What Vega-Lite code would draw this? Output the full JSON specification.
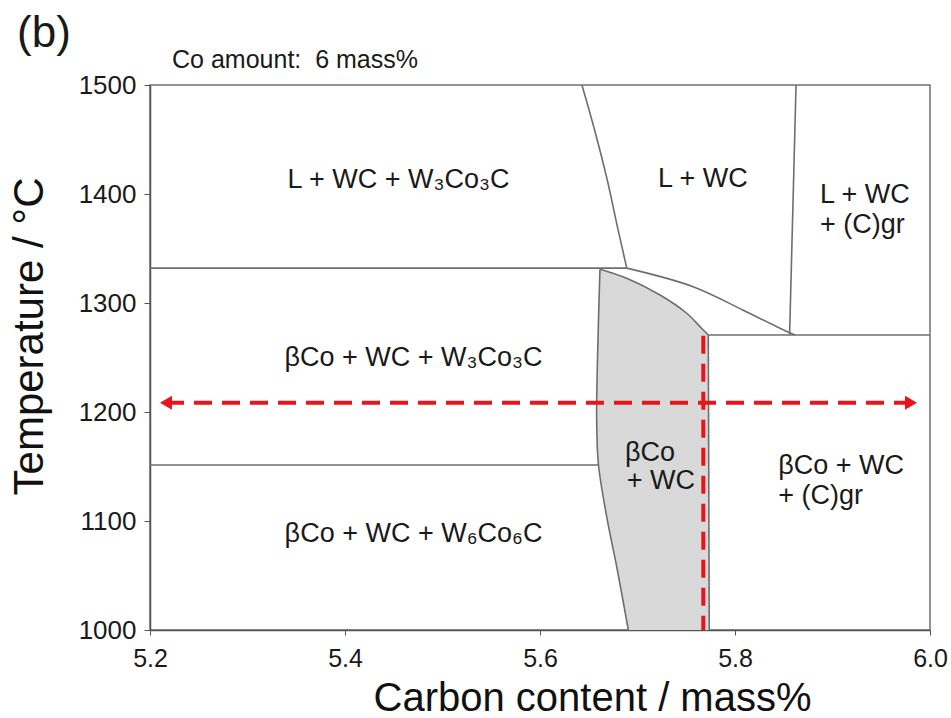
{
  "$schema": "https://vega.github.io/schema/vega-lite/v6.json",
  "width": 780,
  "height": 545,
  "autosize": {"type": "none"},
  "padding": {"left": 150, "top": 85, "right": 21, "bottom": 88},
  "background": "white",
  "config": {
    "font": "Liberation Sans",
    "view": {"stroke": "#707070", "strokeWidth": 1.5}
  },
  "datasets": {
    "region": [
      {"t": 1000, "c": 5.6906, "c2": 5.7736},
      {"t": 1058, "c": 5.6787, "c2": 5.7733},
      {"t": 1104, "c": 5.6684, "c2": 5.7730},
      {"t": 1153, "c": 5.6598, "c2": 5.7730},
      {"t": 1196, "c": 5.6581, "c2": 5.7728},
      {"t": 1257, "c": 5.6592, "c2": 5.7727},
      {"t": 1270.6, "c": 5.6598, "c2": 5.7726},
      {"t": 1278.3, "c": 5.6600, "c2": 5.7641},
      {"t": 1290.6, "c": 5.6603, "c2": 5.7505},
      {"t": 1307.3, "c": 5.6607, "c2": 5.7231},
      {"t": 1322.7, "c": 5.6612, "c2": 5.6889},
      {"t": 1331, "c": 5.6615, "c2": 5.6615}
    ],
    "bounds": [
      {"seg": "A", "k": 0, "c": 5.2, "t": 1332},
      {"seg": "A", "k": 1, "c": 5.689, "t": 1332},
      {"seg": "B", "k": 0, "c": 5.643, "t": 1500},
      {"seg": "B", "k": 1, "c": 5.656, "t": 1458.7},
      {"seg": "B", "k": 2, "c": 5.669, "t": 1412.8},
      {"seg": "B", "k": 3, "c": 5.679, "t": 1371.6},
      {"seg": "B", "k": 4, "c": 5.689, "t": 1332},
      {"seg": "C", "k": 0, "c": 5.689, "t": 1332},
      {"seg": "C", "k": 1, "c": 5.757, "t": 1315},
      {"seg": "C", "k": 2, "c": 5.808, "t": 1293.6},
      {"seg": "C", "k": 3, "c": 5.8428, "t": 1278.3},
      {"seg": "C", "k": 4, "c": 5.8615, "t": 1270.6},
      {"seg": "D", "k": 0, "c": 5.8626, "t": 1500},
      {"seg": "D", "k": 1, "c": 5.856, "t": 1270.6},
      {"seg": "E", "k": 0, "c": 5.7726, "t": 1270.6},
      {"seg": "E", "k": 1, "c": 6.0, "t": 1270.6},
      {"seg": "F", "k": 0, "c": 5.2, "t": 1151.4},
      {"seg": "F", "k": 1, "c": 5.6598, "t": 1151.4},
      {"seg": "G", "k": 0, "c": 5.6615, "t": 1331},
      {"seg": "G", "k": 1, "c": 5.6592, "t": 1257},
      {"seg": "G", "k": 2, "c": 5.6581, "t": 1196},
      {"seg": "G", "k": 3, "c": 5.6598, "t": 1153},
      {"seg": "G", "k": 4, "c": 5.6684, "t": 1104},
      {"seg": "G", "k": 5, "c": 5.6787, "t": 1058},
      {"seg": "G", "k": 6, "c": 5.6906, "t": 1000},
      {"seg": "H", "k": 0, "c": 5.6615, "t": 1331},
      {"seg": "H", "k": 1, "c": 5.6889, "t": 1322.7},
      {"seg": "H", "k": 2, "c": 5.7231, "t": 1307.3},
      {"seg": "H", "k": 3, "c": 5.7505, "t": 1290.6},
      {"seg": "H", "k": 4, "c": 5.7641, "t": 1278.3},
      {"seg": "H", "k": 5, "c": 5.7726, "t": 1270.6},
      {"seg": "I", "k": 0, "c": 5.7726, "t": 1270.6},
      {"seg": "I", "k": 1, "c": 5.7736, "t": 1000}
    ],
    "guide": [
      {"seg": "h", "k": 0, "c": 5.2164, "t": 1208.5},
      {"seg": "h", "k": 1, "c": 5.9805, "t": 1208.5},
      {"seg": "v", "k": 0, "c": 5.7675, "t": 1270},
      {"seg": "v", "k": 1, "c": 5.7675, "t": 1000}
    ],
    "labelsCenter": [
      {"lab": "L + WC + W₃Co₃C", "c": 5.4549, "t": 1405.5},
      {"lab": "L + WC", "c": 5.767, "t": 1406.5},
      {"lab": "βCo + WC + W₃Co₃C", "c": 5.4703, "t": 1242.5},
      {"lab": "βCo + WC + W₆Co₆C", "c": 5.4703, "t": 1080.5}
    ],
    "labelsLeft": [
      {"lab": "L + WC", "c": 5.8872, "t": 1392},
      {"lab": "+ (C)gr", "c": 5.8872, "t": 1364.5},
      {"lab": "βCo", "c": 5.6872, "t": 1155},
      {"lab": "+ WC", "c": 5.6889, "t": 1129.5},
      {"lab": "βCo + WC", "c": 5.8444, "t": 1143},
      {"lab": "+ (C)gr", "c": 5.8444, "t": 1115.5}
    ]
  },
  "encoding": {
    "x": {
      "field": "c",
      "type": "quantitative",
      "title": "Carbon content / mass%",
      "scale": {"domain": [5.2, 6.0], "nice": false, "zero": false},
      "axis": {
        "values": [5.2, 5.4, 5.6, 5.8, 6.0],
        "format": ".1f",
        "grid": false,
        "labelFlush": false,
        "labelFontSize": 25,
        "labelColor": "#1a1a1a",
        "labelPadding": 11,
        "tickSize": 5,
        "tickColor": "#555555",
        "domainColor": "#555555",
        "domainWidth": 1.5,
        "titleFontSize": 40,
        "titleFontWeight": "normal",
        "titleColor": "#111111",
        "titleX": 442,
        "titleY": 80,
        "titleAlign": "center",
        "titleBaseline": "alphabetic"
      }
    },
    "y": {
      "field": "t",
      "type": "quantitative",
      "title": "Temperature / °C",
      "scale": {"domain": [1000, 1500], "nice": false, "zero": false},
      "axis": {
        "values": [1000, 1100, 1200, 1300, 1400, 1500],
        "format": "d",
        "grid": false,
        "labelFlush": false,
        "labelFontSize": 26,
        "labelColor": "#1a1a1a",
        "labelPadding": 8,
        "tickSize": 6,
        "tickColor": "#555555",
        "domainColor": "#555555",
        "domainWidth": 1.5,
        "titleFontSize": 42,
        "titleFontWeight": "normal",
        "titleColor": "#111111",
        "titleAngle": 270,
        "titleX": -108,
        "titleY": 251,
        "titleAlign": "center",
        "titleBaseline": "alphabetic"
      }
    }
  },
  "layer": [
    {
      "data": {"name": "region"},
      "mark": {"type": "area", "orient": "horizontal", "color": "#d9d9d9", "opacity": 1, "interpolate": "monotone"},
      "encoding": {"x2": {"field": "c2"}}
    },
    {
      "data": {"name": "bounds"},
      "mark": {"type": "line", "color": "#6e6e6e", "strokeWidth": 1.6, "interpolate": "catmull-rom"},
      "encoding": {
        "detail": {"field": "seg"},
        "order": {"field": "k", "type": "quantitative"}
      }
    },
    {
      "data": {"name": "guide"},
      "mark": {"type": "line", "color": "#e8141a", "strokeWidth": 4, "strokeDash": [18, 10], "strokeCap": "butt"},
      "encoding": {
        "detail": {"field": "seg"},
        "order": {"field": "k", "type": "quantitative"}
      }
    },
    {
      "data": {"values": [{"c": 5.2164, "t": 1208.5, "dir": "left"}]},
      "mark": {"type": "point", "shape": "triangle-left", "filled": true, "color": "#e8141a", "size": 190, "opacity": 1, "strokeWidth": 0}
    },
    {
      "data": {"values": [{"c": 5.9805, "t": 1208.5, "dir": "right"}]},
      "mark": {"type": "point", "shape": "triangle-right", "filled": true, "color": "#e8141a", "size": 190, "opacity": 1, "strokeWidth": 0}
    },
    {
      "data": {"name": "labelsCenter"},
      "mark": {"type": "text", "align": "center", "baseline": "alphabetic", "fontSize": 27, "color": "#1a1a1a"},
      "encoding": {"text": {"field": "lab"}}
    },
    {
      "data": {"name": "labelsLeft"},
      "mark": {"type": "text", "align": "left", "baseline": "alphabetic", "fontSize": 27, "color": "#1a1a1a"},
      "encoding": {"text": {"field": "lab"}}
    },
    {
      "data": {"values": [{"lab": "Co amount:\u00a0 6 mass%", "c": 5.2226, "t": 1515.6}]},
      "mark": {"type": "text", "align": "left", "baseline": "alphabetic", "fontSize": 25, "color": "#1a1a1a"},
      "encoding": {"text": {"field": "lab"}}
    },
    {
      "data": {"values": [{"lab": "(b)", "c": 5.0636, "t": 1534.9}]},
      "mark": {"type": "text", "align": "left", "baseline": "alphabetic", "fontSize": 44, "color": "#1a1a1a"},
      "encoding": {"text": {"field": "lab"}}
    }
  ]
}
